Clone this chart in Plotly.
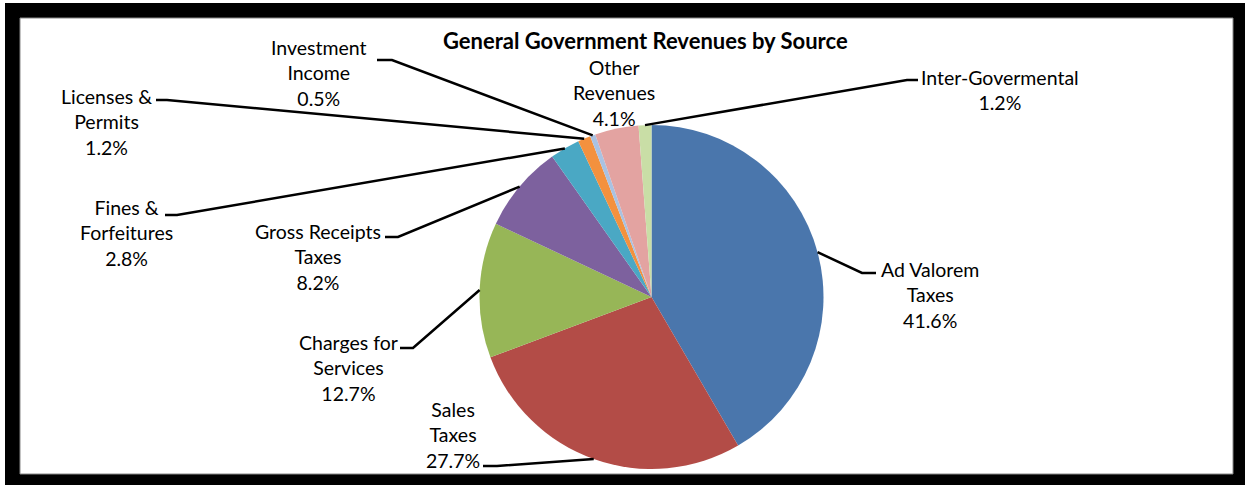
import math
import plotly.graph_objects as go

# Revenue sources, in clockwise order starting at 12 o'clock
sources = [
    "Ad Valorem<br>Taxes",
    "Sales<br>Taxes",
    "Charges for<br>Services",
    "Gross Receipts<br>Taxes",
    "Fines &<br>Forfeitures",
    "Licenses &<br>Permits",
    "Investment<br>Income",
    "Other<br>Revenues",
    "Inter-Govermental",
]
shares = [41.6, 27.7, 12.7, 8.2, 2.8, 1.2, 0.5, 4.1, 1.2]
slice_colors = [
    "#4A76AC", "#B34C47", "#97B657", "#7D619E", "#4AA8C4",
    "#F3913E", "#A9C2E2", "#E3A3A1", "#C9DEA6",
]

W, H = 1245, 485
CX, CY, R = 651.5, 297.0, 172.0   # pie centre and radius in pixels

# label placement: (centre x, middle y) in pixels; leader path (elbow, end) or None
label_pos = [
    (930, 295), (453, 435), (348, 368), (318, 257), (126, 233),
    (106, 122), (319, 73), (614, 93), (1000, 90),
]
leader = [
    ((862, 273), (876, 273)),
    ((497, 466), (483, 466)),
    ((413, 348), (400, 348)),
    ((398, 237), (385, 237)),
    ((177, 215), (165, 215)),
    ((167, 100), (156, 100)),
    ((392, 60), (377, 60)),
    None,
    ((907, 80), (918, 80)),
]


def px(x):
    return x / W


def py(y):
    return 1 - y / H


fig = go.Figure(
    go.Pie(
        labels=[s.replace("<br>", " ") for s in sources],
        values=shares,
        sort=False,
        direction="clockwise",
        rotation=0,
        marker=dict(colors=slice_colors, line=dict(width=0)),
        textinfo="none",
        hoverinfo="label+percent",
        showlegend=False,
        domain=dict(x=[px(CX - R), px(CX + R)], y=[py(CY + R), py(CY - R)]),
    )
)

shapes = [
    # thick black frame
    dict(type="rect", xref="paper", yref="paper", x0=px(5), x1=px(1250), y0=py(490), y1=py(3),
         fillcolor="black", line=dict(width=0), layer="below"),
    dict(type="rect", xref="paper", yref="paper", x0=px(20), x1=px(1233), y0=py(474), y1=py(18),
         fillcolor="white", line=dict(color="#888888", width=1), layer="below"),
]

annotations = [
    dict(text="<b>General Government Revenues by Source</b>", x=px(645), y=py(40),
         xref="paper", yref="paper", showarrow=False, xanchor="center", yanchor="middle",
         font=dict(family="Lato", size=22, color="black")),
]

total = sum(shares)
cum = 0.0
for name, val, (lx, ly), path in zip(sources, shares, label_pos, leader):
    mid = (cum + val / 2) / total * 2 * math.pi
    cum += val
    text = f"{name}<br>{val:.1f}%"
    annotations.append(dict(
        text=text, x=px(lx), y=py(ly), xref="paper", yref="paper", showarrow=False,
        xanchor="center", yanchor="middle", align="center",
        font=dict(family="Lato", size=19.5, color="black"),
    ))
    if path is not None:
        ex = CX + R * math.sin(mid)
        ey = CY - R * math.cos(mid)
        (bx, by), (tx, ty) = path
        shapes.append(dict(
            type="path", xref="paper", yref="paper",
            path=f"M {px(ex)} {py(ey)} L {px(bx)} {py(by)} L {px(tx)} {py(ty)}",
            line=dict(color="black", width=2.5),
        ))

fig.update_layout(
    width=W, height=H,
    margin=dict(l=0, r=0, t=0, b=0),
    paper_bgcolor="white",
    plot_bgcolor="white",
    shapes=shapes,
    annotations=annotations,
)

fig.write_html("out.html")
